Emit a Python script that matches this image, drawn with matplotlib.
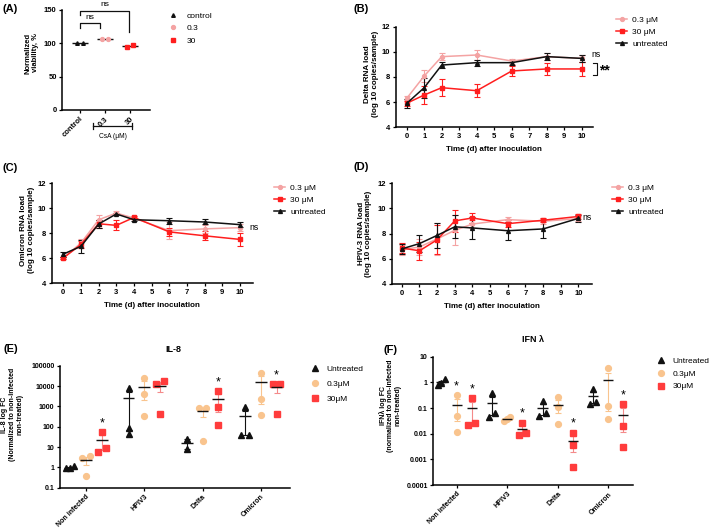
import numpy as np
import matplotlib
matplotlib.use("Agg")
import matplotlib.pyplot as plt
from matplotlib.ticker import FuncFormatter, NullLocator

plt.rcParams['font.family'] = ['Liberation Sans', 'DejaVu Sans']
plt.rcParams['font.weight'] = 'bold'
plt.rcParams['axes.labelweight'] = 'bold'
plt.rcParams['font.size'] = 5.5

W, H = 709, 530

# (A) viability
a_groups = ["control", "0.3", "30"]
a_values = [[100, 100], [107, 107], [95, 97]]

# (B) Delta, mean +/- err per day
days_b = [0, 1, 2, 4, 6, 8, 10]
delta_03 = [6.30, 8.08, 9.62, 9.75, 9.27, 9.62, 9.48]
delta_03_err = [0.15, 0.45, 0.25, 0.37, 0.2, 0.3, 0.3]
delta_30 = [5.91, 6.57, 7.15, 6.91, 8.48, 8.64, 8.64]
delta_30_err = [0.2, 0.7, 0.66, 0.5, 0.4, 0.5, 0.55]
delta_un = [5.90, 7.15, 8.95, 9.14, 9.14, 9.62, 9.48]
delta_un_err = [0.35, 0.8, 0.25, 0.25, 0.2, 0.3, 0.3]

# (C) Omicron and (D) HPIV-3
days_cd = [0, 1, 2, 3, 4, 6, 8, 10]
omi_03 = [6.02, 7.22, 9.07, 9.60, 9.20, 8.20, 8.34, 8.44]
omi_03_err = [0.1, 0.3, 0.35, 0.15, 0.1, 0.66, 0.3, 0.25]
omi_30 = [6.02, 7.10, 8.75, 8.62, 9.25, 8.10, 7.79, 7.50]
omi_30_err = [0.1, 0.3, 0.3, 0.4, 0.1, 0.3, 0.35, 0.55]
omi_un = [6.33, 6.95, 8.73, 9.53, 9.07, 8.99, 8.89, 8.68]
omi_un_err = [0.2, 0.5, 0.3, 0.1, 0.1, 0.25, 0.2, 0.2]

hpiv_03 = [6.72, 6.93, 7.57, 8.25, 8.75, 9.10, 8.97, 9.18]
hpiv_03_err = [0.4, 0.6, 1.3, 1.2, 0.3, 0.2, 0.2, 0.2]
hpiv_30 = [6.85, 6.63, 7.50, 9.00, 9.23, 8.78, 9.05, 9.35]
hpiv_30_err = [0.4, 0.7, 1.15, 0.9, 0.4, 0.3, 0.15, 0.2]
hpiv_un = [6.78, 7.20, 7.85, 8.53, 8.44, 8.22, 8.36, 9.20]
hpiv_un_err = [0.4, 0.7, 1.0, 0.9, 0.9, 0.7, 0.7, 0.3]

# (E) IL-8 and (F) IFN lambda, individual replicates
cyto_groups = ["Non infected", "HPIV3", "Delta", "Omicron"]
il8_un = [[0.9, 1.15, 0.9], [7700, 89, 44], [24.5, 8.3], [890, 39, 39]]
il8_03 = [[3.7, 2.8, 0.36], [24000, 4060, 330], [850, 850, 20], [45000, 2200, 370]]
il8_30 = [[5.9, 52, 8.5], [18300, 12000, 440], [5600, 960, 120], [12600, 12600, 400]]
il8_sig_03 = [False, False, False, False]
il8_sig_30 = [True, False, True, True]

ifn_un = [[1.3, 0.8, 0.95], [0.37, 0.046, 0.066], [0.19, 0.05, 0.062], [0.53, 0.15, 0.165]]
ifn_03 = [[0.32, 0.049, 0.012], [0.032, 0.044, 0.038], [0.28, 0.107, 0.024], [3.5, 0.12, 0.036]]
ifn_30 = [[0.24, 0.022, 0.027], [0.027, 0.0089, 0.011], [0.011, 0.0036, 0.00049], [0.14, 0.020, 0.0031]]
ifn_sig_03 = [True, False, False, False]
ifn_sig_30 = [True, True, True, True]

BLACK = "#111111"
PINK = "#F4A3A3"
RED = "#FF1E1E"
PEACH = "#F9C48E"
SQRED = "#FF3C3C"
ERRRED = "#F48A8A"

fig = plt.figure(figsize=(W / 100, H / 100), dpi=100)


def add_ax(left, top, right, bottom):
    ax = fig.add_axes([left / W, 1 - bottom / H, (right - left) / W, (bottom - top) / H])
    ax.spines[['top', 'right']].set_visible(False)
    ax.spines[['left', 'bottom']].set_linewidth(1.1)
    ax.tick_params(width=0.9, length=2.5, labelsize=5.5, pad=1.5)
    return ax


def put_legend(handles, labels, x, y, hl, htp, ls, fs=6):
    fig.legend(handles, labels, loc='upper left', bbox_to_anchor=(x / W, 1 - y / H),
               frameon=False, borderaxespad=0, borderpad=0, handlelength=hl,
               handletextpad=htp, labelspacing=ls, numpoints=1,
               prop={'size': fs, 'weight': 'normal'})


def fig_text(s, x, y, size):
    fig.text(x / W, 1 - y / H, s, fontsize=size, ha='center', va='center')


# ---------- (A) ----------
ax = add_ax(62.3, 10, 150, 110)
styles_a = [('^', BLACK, 2.6), ('o', PINK, 2.8), ('s', RED, 2.8)]
handles = []
for i, (vals, (mk, col, ms)) in enumerate(zip(a_values, styles_a)):
    xs = i + np.array([-0.13, 0.13])
    h, = ax.plot(xs, vals, ls='none', marker=mk, color=col, ms=ms, clip_on=False, zorder=3)
    ax.hlines(np.mean(vals), i - 0.32, i + 0.32, color=BLACK, lw=1.0, zorder=2)
    handles.append(h)
ax.set_xlim(-0.71, 2.8)
ax.set_ylim(0, 150)
ax.set_yticks([0, 50, 100, 150])
ax.set_xticks(range(3))
ax.set_xticklabels(a_groups, rotation=45, ha='right', rotation_mode='anchor')
ax.set_ylabel("Normalized\nviability, %", fontsize=5.5, linespacing=1.1)
ax.yaxis.set_label_coords(-0.26, 0.57)
ax.plot([0, 0, 0.8, 0.8], [122.5, 130, 130, 122.5], color=BLACK, lw=0.9, clip_on=False)
ax.text(0.4, 137, "ns", ha='center', va='baseline', fontsize=6, weight='normal')
ax.plot([0, 0, 1.96, 1.96], [142.5, 148.5, 148.5, 117.5], color=BLACK, lw=0.9, clip_on=False)
ax.text(1.0, 156, "ns", ha='center', va='baseline', fontsize=6, weight='normal')
y_br = (110 - 126) / 100
x0, x1 = (93 - 62.3) / 87.7, (132 - 62.3) / 87.7
ax.plot([x0, x1], [y_br, y_br], color=BLACK, lw=0.9, transform=ax.transAxes, clip_on=False)
for xe in (x0, x1):
    ax.plot([xe, xe], [y_br - 0.033, y_br + 0.033], color=BLACK, lw=0.9,
            transform=ax.transAxes, clip_on=False)
ax.text((x0 + x1) / 2, (110 - 137) / 100, "CsA (μM)", transform=ax.transAxes,
        ha='center', va='center', fontsize=4.8, weight='normal')
put_legend(handles, ["control", "0.3", "30"], 169, 12, 1.0, 1.1, 0.55)
fig_text("(A)", 10, 9, 8)


# ---------- (B)-(D) ----------
def load_panel(ax, days, series, xlim, ylab, ylab_xy):
    handles = []
    for vals, err, col, mk, ms, lab in series:
        cont = ax.errorbar(days, vals, yerr=err, color=col, marker=mk, ms=ms, lw=1.1,
                           elinewidth=0.8, capsize=2, capthick=0.8, clip_on=False)
        handles.append(cont.lines[0])
    ax.set_xlim(*xlim)
    ax.set_ylim(4, 12)
    ax.set_xticks(range(11))
    ax.set_yticks([4, 6, 8, 10, 12])
    ax.set_xlabel("Time (d) after inoculation", fontsize=5.8)
    ax.xaxis.set_label_coords(0.5, -0.19)
    ax.set_ylabel(ylab, fontsize=5.8, linespacing=1.1)
    ax.yaxis.set_label_coords(*ylab_xy)
    return handles


labels_bd = ["0.3 μM", "30 μM", "untreated"]

axb = add_ax(395.5, 26.7, 593, 127.3)
hb = load_panel(axb, days_b,
                [(delta_03, delta_03_err, PINK, 'o', 2.8, labels_bd[0]),
                 (delta_30, delta_30_err, RED, 's', 3.0, labels_bd[1]),
                 (delta_un, delta_un_err, BLACK, '^', 2.8, labels_bd[2])],
                (-0.64, 10.64), "Delta RNA load\n(log 10 copies/sample)", (-0.086, 0.53))
axb.text(10.55, 9.75, "ns", fontsize=6.2, weight='normal', va='center', ha='left', clip_on=False)
axb.plot([10.62, 10.85, 10.85, 10.62], [9.14, 9.14, 8.16, 8.16], color=BLACK, lw=0.8, clip_on=False)
axb.text(11.0, 8.5, "**", fontsize=10, va='center', ha='left', clip_on=False)
put_legend(hb, labels_bd, 616, 16, 1.35, 0.6, 0.5)
fig_text("(B)", 361, 9, 8)

axc = add_ax(51.7, 183, 253, 283.3)
hc = load_panel(axc, days_cd,
                [(omi_03, omi_03_err, PINK, 'o', 2.8, labels_bd[0]),
                 (omi_30, omi_30_err, RED, 's', 3.0, labels_bd[1]),
                 (omi_un, omi_un_err, BLACK, '^', 2.8, labels_bd[2])],
                (-0.66, 10.74), "Omicron RNA load\n(log 10 copies/sample)", (-0.083, 0.53))
axc.text(10.55, 8.45, "ns", fontsize=6.2, weight='normal', va='center', ha='left', clip_on=False)
put_legend(hc, labels_bd, 274, 184, 1.35, 0.6, 0.5)
fig_text("(C)", 10, 168, 8)

axd = add_ax(391.7, 183, 591.7, 284)
hd = load_panel(axd, days_cd,
                [(hpiv_03, hpiv_03_err, PINK, 'o', 2.8, labels_bd[0]),
                 (hpiv_30, hpiv_30_err, RED, 's', 3.0, labels_bd[1]),
                 (hpiv_un, hpiv_un_err, BLACK, '^', 2.8, labels_bd[2])],
                (-0.57, 10.75), "HPIV-3 RNA load\n(log 10 copies/sample)", (-0.098, 0.5))
axd.text(10.25, 9.3, "ns", fontsize=6.2, weight='normal', va='center', ha='left', clip_on=False)
put_legend(hd, labels_bd, 612, 184, 1.35, 0.6, 0.5)
fig_text("(D)", 361, 167, 8)


# ---------- (E)/(F) ----------
def spread(vals, thr=0.25, w=0.065):
    lv = np.log10(vals)
    order = np.argsort(lv)
    offs = np.zeros(len(vals))
    clusters = [[order[0]]]
    for idx in order[1:]:
        if lv[idx] - lv[clusters[-1][-1]] < thr:
            clusters[-1].append(idx)
        else:
            clusters.append([idx])
    for cl in clusters:
        if len(cl) > 1:
            offs[cl] = np.linspace(-w, w, len(cl))
    return offs


def cyto_panel(ax, sets, off, ylim, yticks):
    handles = []
    for (data, sig, mk, col, ecol, ms, shift) in sets:
        for g, vals in enumerate(data):
            vals = np.array(vals, dtype=float)
            xc = g + shift * off
            m = vals.mean()
            sem = vals.std(ddof=1) / np.sqrt(len(vals))
            lo = sem if m - sem > 0 else 0
            ax.errorbar([xc], [m], yerr=[[lo], [sem]], color=ecol, elinewidth=0.8,
                        capsize=2, capthick=0.8, fmt='none', zorder=2)
            h, = ax.plot(xc + spread(vals), vals, ls='none', marker=mk, color=col, ms=ms,
                         zorder=3, clip_on=False)
            ax.hlines(m, xc - 0.1, xc + 0.1, color=BLACK, lw=1.0, zorder=4)
            if sig[g]:
                top = max(vals.max(), m + sem)
                ax.annotate("*", (xc, top), xytext=(0, 6.5), textcoords='offset points',
                            ha='center', va='center', fontsize=9, weight='normal')
        handles.append(h)
    ax.set_yscale('log')
    ax.set_ylim(*ylim)
    ax.set_yticks(yticks)
    ax.yaxis.set_major_formatter(FuncFormatter(lambda v, p: f"{v:g}"))
    ax.yaxis.set_minor_locator(NullLocator())
    ax.set_xticks(range(4))
    ax.set_xticklabels(cyto_groups, rotation=45, ha='right', rotation_mode='anchor', fontsize=5.3)
    ax.tick_params(labelsize=5.0)
    return handles


leg_e = ["Untreated", "0.3μM", "30μM"]

axe = add_ax(60, 365.7, 290, 487.7)
he = cyto_panel(axe, [(il8_un, [False] * 4, '^', BLACK, BLACK, 4.2, -1),
                      (il8_03, il8_sig_03, 'o', PEACH, PEACH, 4.2, 0),
                      (il8_30, il8_sig_30, 's', SQRED, ERRRED, 4.0, 1)],
                0.27, (0.1, 1e5), [0.1, 1, 10, 100, 1000, 10000, 100000])
axe.set_xlim(-0.446, 3.5)
axe.set_ylabel("IL-8 log FC\n(Normalized to non-infected\nnon-treated)", fontsize=5.0, linespacing=1.1)
axe.yaxis.set_label_coords(-0.16, 0.6)
fig_text("IL-8", 173, 349, 6.5)
put_legend(he, leg_e, 311, 365, 1.0, 0.9, 0.85)
fig_text("(E)", 11, 349, 8)

axf = add_ax(433.3, 356.7, 633, 485)
hf = cyto_panel(axf, [(ifn_un, [False] * 4, '^', BLACK, BLACK, 4.2, -1),
                      (ifn_03, ifn_sig_03, 'o', PEACH, PEACH, 4.2, 0),
                      (ifn_30, ifn_sig_30, 's', SQRED, ERRRED, 4.0, 1)],
                0.3, (1e-4, 10), [0.0001, 0.001, 0.01, 0.1, 1, 10])
axf.set_xlim(-0.46, 3.49)
axf.set_ylabel("IFNλ log FC\n(normalized to non-infected\nnon-treated)", fontsize=5.0, linespacing=1.1)
axf.yaxis.set_label_coords(-0.157, 0.62)
fig_text("IFN λ", 533, 340, 6.5)
put_legend(hf, leg_e, 657, 357, 1.0, 0.9, 0.6)
fig_text("(F)", 390, 350, 8)

fig.savefig("out.png", dpi=100)
